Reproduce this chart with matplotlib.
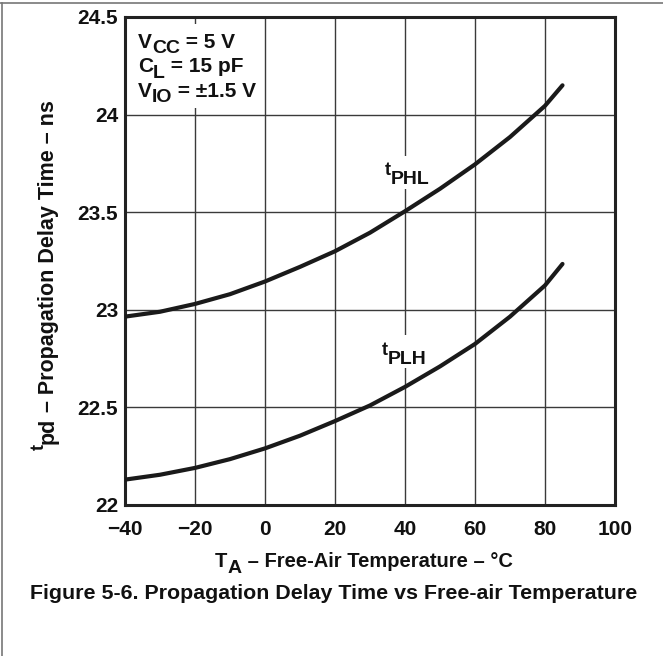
"""
Propagation delay time vs free-air temperature (Figure 5-6 style).
"""

import matplotlib
matplotlib.use("Agg")
import matplotlib.pyplot as plt
from matplotlib.lines import Line2D
from matplotlib.patches import Rectangle
from matplotlib.transforms import IdentityTransform


W, H = 663, 656
DPI = 100

# values
temperature = [-40, -30, -20, -10, 0, 10, 20, 30, 40, 50, 60, 70, 80, 85]
t_phl = [22.965, 22.99, 23.03, 23.08, 23.145, 23.22, 23.30, 23.395, 23.505,
         23.62, 23.745, 23.885, 24.045, 24.15]
t_plh = [22.13, 22.155, 22.19, 22.235, 22.29, 22.355, 22.43, 22.51, 22.605,
         22.71, 22.825, 22.965, 23.125, 23.235]

x_ticks = [-40, -20, 0, 20, 40, 60, 80, 100]
y_ticks = [22, 22.5, 23, 23.5, 24, 24.5]
y_tick_labels = ["22", "22.5", "23", "23.5", "24", "24.5"]

conditions = [
    [("V", 0, 15), ("CC", -5, 14), (" = 5 V", 0, 15)],
    [("C", 0, 15), ("L", -5, 14), (" = 15 pF", 0, 15)],
    [("V", 0, 15), ("IO", -5, 14), (" = \u00b11.5 V", 0, 15)],
]

plt.rcParams["font.family"] = ["Liberation Sans", "DejaVu Sans"]
plt.rcParams["font.weight"] = "bold"


def rich_text(fig, x, y, parts, rotation=0):
    """Write text pieces one after another; x, y is the first baseline in
    pixels from the top-left corner. Each part is (text, rise_px, size)."""
    renderer = fig.canvas.get_renderer()
    px, py = x, H - y
    for text, rise, size in parts:
        if rotation == 0:
            tx, ty = px, py + rise
        else:
            tx, ty = px - rise, py
        t = fig.text(tx, ty, text, transform=IdentityTransform(),
                     fontsize=size, fontweight="bold", color="#111111",
                     ha="left", va="baseline", rotation=rotation,
                     rotation_mode="anchor", zorder=5)
        bb = t.get_window_extent(renderer)
        if rotation == 0:
            px += bb.width
        else:
            py += bb.height


fig = plt.figure(figsize=(W / DPI, H / DPI), dpi=DPI)
ax = fig.add_axes([125 / W, 1 - 505 / H, 490 / W, 488 / H])

ax.set_xlim(-40, 100)
ax.set_ylim(22, 24.5)
ax.set_xticks(x_ticks)
ax.set_yticks(y_ticks)
ax.set_yticklabels(y_tick_labels)
ax.grid(True, color="#3a3a3a", linewidth=1.0)
ax.set_axisbelow(True)
for s in ax.spines.values():
    s.set_linewidth(2.2)
    s.set_color("#222222")
ax.tick_params(length=0, labelsize=15, labelcolor="#111111")
ax.tick_params(axis="x", pad=10.5)
ax.tick_params(axis="y", pad=5)

ax.plot(temperature, t_phl, color="#1a1a1a", lw=3, solid_capstyle="round",
        solid_joinstyle="round", zorder=4)
ax.plot(temperature, t_plh, color="#1a1a1a", lw=3, solid_capstyle="round",
        solid_joinstyle="round", zorder=4)

# white backgrounds under the text inside the grid
ax.add_patch(Rectangle((-38.5, 24.035), 36.5, 0.43, facecolor="white",
                       edgecolor="none", zorder=2))
ax.add_patch(Rectangle((33.0, 23.62), 16.5, 0.17, facecolor="white",
                       edgecolor="none", zorder=2))
ax.add_patch(Rectangle((32.5, 22.70), 16.5, 0.17, facecolor="white",
                       edgecolor="none", zorder=2))

for i, line in enumerate(conditions):
    rich_text(fig, 138, 48 + i * 24.5, line)

rich_text(fig, 385, 175, [("t", 0, 13), ("PHL", -9, 14)])
rich_text(fig, 382, 355, [("t", 0, 13), ("PLH", -9, 14)])

rich_text(fig, 215, 567, [("T", 0, 14.5), ("A", -6, 14),
                          (" \u2013 Free-Air Temperature \u2013 \u00b0C", 0, 14.5)])
rich_text(fig, 54, 450, [("t", 10, 13), ("pd", 0, 15.5),
                         (" \u2013 Propagation Delay Time \u2013 ns", 0, 15.5)],
          rotation=90)

fig.text(334 / W, 1 - 599 / H,
         "Figure 5-6. Propagation Delay Time vs Free-air Temperature",
         ha="center", va="baseline", fontsize=15.4, fontweight="bold",
         color="#111111")

# page frame lines at top and left
fig.add_artist(Line2D([0, 1], [1 - 3 / H] * 2, transform=fig.transFigure,
                      color="#777777", lw=1.2))
fig.add_artist(Line2D([1.5 / W] * 2, [0, 1 - 3 / H], transform=fig.transFigure,
                      color="#777777", lw=1.2))

fig.savefig("out.png", dpi=DPI)
